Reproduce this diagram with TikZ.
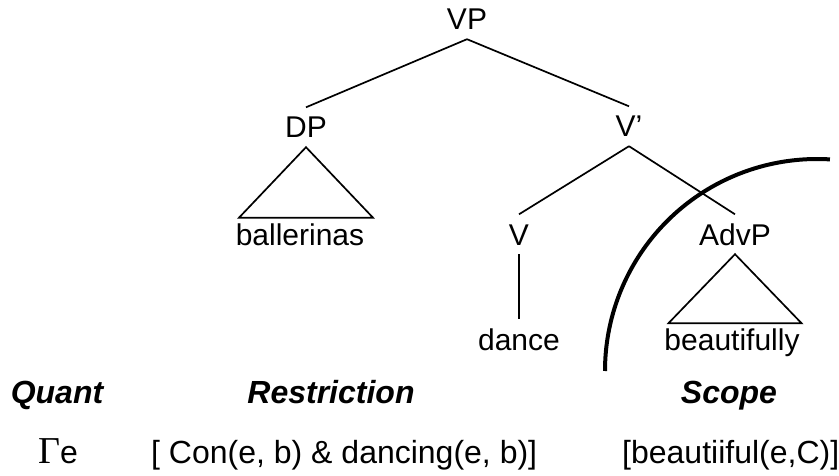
\documentclass[tikz,border=0pt]{standalone}
\usepackage{fontspec}
\setmainfont{Liberation Sans}
\newfontfamily\gammafont{Liberation Serif}
\begin{document}
\begin{tikzpicture}[x=1pt,y=-1pt,
  lab/.style={font=\fontsize{30}{30}\selectfont, inner xsep=0pt, inner ysep=9pt,
    text height=21.5pt, text depth=0pt, anchor=base},
  word/.style={font=\fontsize{30}{30}\selectfont, inner sep=0pt, anchor=base},
  head/.style={font=\fontsize{32}{32}\selectfont\bfseries\itshape, inner sep=0pt, anchor=base},
  formula/.style={font=\fontsize{32}{32}\selectfont, inner sep=0pt, anchor=base west},
  branch/.style={line width=1.7pt},
  scopearc/.style={line width=4pt}]
\useasboundingbox (0,0) rectangle (839,476);
% tree labels
\node[lab] (VP) at (467,30) {VP};
\node[lab] (DP) at (306,138) {DP};
\node[lab] (Vbar) at (629,137) {V’};
\node[lab] (V) at (519,245) {V};
\node[lab] (AdvP) at (735,245) {AdvP};
\node[lab] (dance) at (519,350) {dance};
\node[word] (ball) at (300,246) {ballerinas};
\node[word] (beau) at (732,350) {beautifully};
% branches
\draw[branch] (VP.south) -- (DP.north);
\draw[branch] (VP.south) -- (Vbar.north);
\draw[branch] (Vbar.south) -- (V.north);
\draw[branch] (Vbar.south) -- (AdvP.north);
\draw[branch] (V.south) -- (dance.north);
% triangles
\draw[branch, line join=miter] (DP.south) -- ++(-67,70.5) -- ++(134,0) -- cycle;
\draw[branch, line join=miter] (AdvP.south) -- ++(-66.5,69) -- ++(133,0) -- cycle;
% scope arc
\coordinate (arcC) at (817,371);
\draw[scopearc] (arcC) ++(180:212) arc[start angle=180, end angle=273.5, radius=212];
% headings
\node[head] (quant) at (57,403) {Quant};
\node[head] (restr) at (331,403) {Restriction};
\node[head] (scope) at (729,403) {Scope};
% formula row
\node[formula] (gam) at (38,463) {{\gammafont\fontsize{38}{38}\selectfont Γ}e};
\node[formula] (res) at (151,463) {[ Con(e, b) \& dancing(e, b)]};
\node[formula] (sc) at (622,463) {[beautiiful(e,C)]};
\end{tikzpicture}
\end{document}
